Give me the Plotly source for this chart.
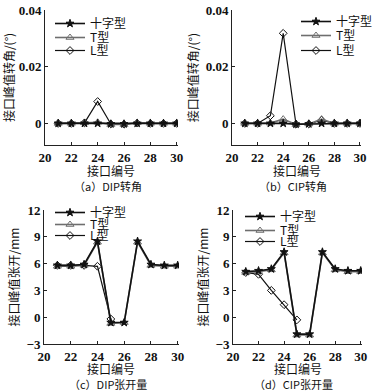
import plotly.graph_objects as go

joints = [21, 22, 23, 24, 25, 26, 27, 28, 29, 30]

# (a) DIP rotation
a_cross = [0.0001, 0.0001, 0.0001, 0.0001, -0.0001, -0.0001, 0.0001, 0.0001, 0.0001, 0.0001]
a_T = [0.0001, 0.0001, 0.0003, 0.0005, -0.0003, -0.0003, 0.0004, 0.0001, 0.0001, 0.0001]
a_L = [0.0001, 0.0001, 0.0003, 0.0078, -0.0001, -0.0002, 0.0002, 0.0001, 0.0001, 0.0001]
# (b) CIP rotation
b_cross = [0.0001, 0.0001, 0.0001, 0.0001, -0.0002, -0.0001, 0.0001, 0.0001, 0.0001, 0.0001]
b_T = [0.0001, 0.0001, 0.0002, 0.0016, -0.0003, -0.0001, 0.0016, 0.0001, 0.0001, 0.0001]
b_L = [0.0001, 0.0001, 0.0028, 0.0318, -0.0002, -0.0001, 0.0012, 0.0001, 0.0001, 0.0001]
# (c) DIP opening
c_cross = [5.8, 5.8, 5.9, 8.5, -0.6, -0.6, 8.5, 5.9, 5.8, 5.8]
c_T = [5.7, 5.7, 5.8, 8.4, -0.7, -0.6, 8.4, 5.8, 5.7, 5.7]
c_L = [5.8, 5.8, 5.8, 5.7, -0.2, None, None, None, None, None]
# (d) CIP opening
d_cross = [5.1, 5.2, 5.4, 7.3, -1.9, -1.9, 7.3, 5.4, 5.2, 5.2]
d_T = [5.0, 5.1, 5.3, 7.2, -2.0, -2.0, 7.2, 5.3, 5.1, 5.1]
d_L = [5.0, 4.8, 3.0, 1.4, -0.3, None, None, None, None, None]

names = ["十字型", "T型", "L型"]
captions = ["（a）DIP转角", "（b）CIP转角", "（c）DIP张开量", "（d）CIP张开量"]
xtitle = "接口编号"
xticks = [20, 22, 24, 26, 28, 30]

W, H = 377, 392
def px(x0, x1):
    return [x0 / W, x1 / W]
def py(ytop, ybot):
    return [1 - ybot / H, 1 - ytop / H]

panels = [
    dict(data=[a_cross, a_T, a_L], xd=px(45, 178), xr=[20, 30.1], yd=py(10, 145), yr=[-0.0075, 0.04],
         yt=[0, 0.02, 0.04], ytt=["0", "0.02", "0.04"], ytitle="接口峰值转角/(°)",
         legx=55, legy=[19, 33, 46], xty=170, capy=186),
    dict(data=[b_cross, b_T, b_L], xd=px(232, 361), xr=[20, 30.08], yd=py(10, 145), yr=[-0.0075, 0.04],
         yt=[0, 0.02, 0.04], ytt=["0", "0.02", "0.04"], ytitle="接口峰值转角/(°)",
         legx=301, legy=[17, 31, 46], xty=170, capy=186),
    dict(data=[c_cross, c_T, c_L], xd=px(44, 179), xr=[20, 30.1], yd=py(210, 344), yr=[-3, 12],
         yt=[-3, 0, 3, 6, 9, 12], ytt=["−3", "0", "3", "6", "9", "12"], ytitle="接口峰值张开/mm",
         legx=55, legy=[208, 220, 231], xty=368, capy=384),
    dict(data=[d_cross, d_T, d_L], xd=px(233, 362), xr=[20, 30.1], yd=py(210, 344), yr=[-3, 12],
         yt=[-3, 0, 3, 6, 9, 12], ytt=["−3", "0", "3", "6", "9", "12"], ytitle="接口峰值张开/mm",
         legx=245, legy=[212, 226, 237], xty=368, capy=384),
]

styles = [
    dict(color="#111111", symbol="star", width=1.6, size=6),
    dict(color="#6e6e6e", symbol="triangle-up-open", width=1.6, size=7),
    dict(color="#111111", symbol="diamond-open", width=1.2, size=6),
]

serif = "Times New Roman, Liberation Serif, serif"
cjk = "Noto Sans CJK SC"

fig = go.Figure()
for i, p in enumerate(panels):
    n = i + 1
    xa = "x" if n == 1 else f"x{n}"
    ya = "y" if n == 1 else f"y{n}"
    for k in [2, 1, 0]:
        s = styles[k]
        li = i * 3 + k + 1
        legname = "legend" if li == 1 else f"legend{li}"
        fig.add_trace(go.Scatter(
            x=joints, y=p["data"][k], name=names[k], mode="lines+markers",
            xaxis=xa, yaxis=ya, legend=legname,
            connectgaps=False,
            line=dict(color=s["color"], width=s["width"]),
            marker=dict(symbol=s["symbol"], size=s["size"], color=s["color"],
                        line=dict(color=s["color"], width=1)),
        ))
        fig.layout[legname] = dict(
            x=(p["legx"] - 5) / W, y=1 - (p["legy"][k] - 10) / H,
            xanchor="left", yanchor="top", bgcolor="rgba(0,0,0,0)",
            font=dict(family=cjk, size=12, color="#111"), itemwidth=30,
        )
    axkey = "xaxis" if n == 1 else f"xaxis{n}"
    aykey = "yaxis" if n == 1 else f"yaxis{n}"
    fig.layout[axkey] = dict(
        domain=p["xd"], anchor=ya, range=p["xr"], tickvals=xticks,
        ticks="inside", ticklen=3, tickcolor="#222", showline=True, linecolor="#222",
        linewidth=1, showgrid=False, zeroline=False, automargin=False,
        tickfont=dict(family=serif, size=13, color="#111", weight="bold"),
    )
    fig.layout[aykey] = dict(
        domain=p["yd"], anchor=xa, range=p["yr"], tickvals=p["yt"], ticktext=p["ytt"],
        ticks="inside", ticklen=3, tickcolor="#222", showline=True, linecolor="#222",
        linewidth=1, showgrid=False, zeroline=False, automargin=False,
        tickfont=dict(family=serif, size=13, color="#111", weight="bold"),
        title=dict(text=p["ytitle"], font=dict(family=cjk, size=12, color="#111"), standoff=4),
    )
    xc = (p["xd"][0] + p["xd"][1]) / 2
    fig.add_annotation(
        text=xtitle, xref="paper", yref="paper",
        x=xc, y=1 - p["xty"] / H,
        xanchor="center", yanchor="middle", showarrow=False,
        font=dict(family=cjk, size=12, color="#111"),
    )
    fig.add_annotation(
        text=captions[i], xref="paper", yref="paper",
        x=xc - 0.01, y=1 - p["capy"] / H,
        xanchor="center", yanchor="middle", showarrow=False,
        font=dict(family=cjk, size=11, color="#111"),
    )

fig.update_layout(
    width=W, height=H, margin=dict(l=0, r=0, t=0, b=0, autoexpand=False),
    paper_bgcolor="white", plot_bgcolor="white", showlegend=True,
)
fig.write_html("out.html", config={"displayModeBar": False},
               post_script="document.body.style.margin='0';document.body.style.overflow='hidden';")
